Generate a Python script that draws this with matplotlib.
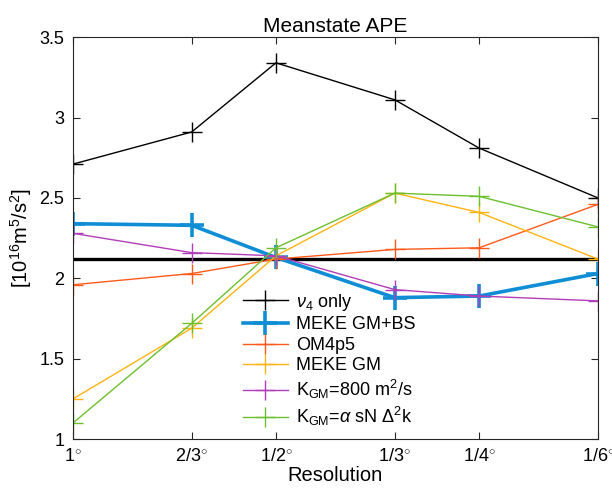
import matplotlib
matplotlib.use("Agg")
import matplotlib.pyplot as plt
import numpy as np

# Data
res_labels = ["1", "2/3", "1/2", "1/3", "1/4", "1/6"]
res_deg = [1.0, 2 / 3, 1 / 2, 1 / 3, 1 / 4, 1 / 6]

nu4_only = [2.71, 2.91, 3.34, 3.11, 2.81, 2.50]
meke_gm_bs = [2.34, 2.33, 2.13, 1.88, 1.89, 2.03]
om4p5 = [1.96, 2.03, 2.12, 2.18, 2.19, 2.46]
meke_gm = [1.25, 1.69, 2.14, 2.53, 2.41, 2.12]
kgm_800 = [2.28, 2.16, 2.14, 1.93, 1.89, 1.86]
kgm_alpha = [1.10, 1.72, 2.19, 2.53, 2.51, 2.32]
ref_level = 2.12

plt.rcParams.update({
    "font.family": "Liberation Sans",
    "mathtext.fontset": "custom",
    "mathtext.rm": "Liberation Sans",
    "mathtext.it": "Liberation Sans:italic",
    "mathtext.bf": "Liberation Sans:bold",
    "xtick.direction": "in",
    "ytick.direction": "in",
    "xtick.top": True,
    "ytick.right": True,
})

BLACK = "#000000"
BLUE = "#0F8ED6"
ORANGE = "#FF5A1A"
YELLOW = "#FFB310"
PURPLE = "#B23DB8"
GREEN = "#6CBF2E"
AXIS = "#262626"

fig = plt.figure(figsize=(6.12, 4.88), dpi=100)
ax = fig.add_axes([0.119, 0.100, 0.858, 0.824])

x = 1 / np.array(res_deg)

ax.plot(x, nu4_only, color=BLACK, lw=1.0, marker="+", ms=15, mew=1.0,
        label=r"$\nu_4$ only")
ax.plot(x, meke_gm_bs, color=BLUE, lw=2.6, marker="+", ms=17, mew=2.6,
        label="MEKE GM+BS")
ax.plot(x, om4p5, color=ORANGE, lw=1.0, marker="+", ms=15, mew=1.0,
        label="OM4p5")
ax.plot(x, meke_gm, color=YELLOW, lw=1.0, marker="+", ms=15, mew=1.0,
        label="MEKE GM")
ax.plot(x, kgm_800, color=PURPLE, lw=1.0, marker="+", ms=15, mew=1.0,
        label=r"K$_{\rm GM}$=800 m$^2$/s")
ax.plot(x, kgm_alpha, color=GREEN, lw=1.0, marker="+", ms=15, mew=1.0,
        label=r"K$_{\rm GM}$=$\alpha$ sN $\Delta^2$k")
ax.axhline(ref_level, color=BLACK, lw=2.4, zorder=1)

ax.set_xscale("log")
ax.set_xlim(x[0], x[-1])
ax.set_xticks(x)
ax.set_xticklabels([lab + r"$^{\circ}$" for lab in res_labels])
ax.minorticks_off()
ax.set_ylim(1, 3.5)
ax.set_yticks([1, 1.5, 2, 2.5, 3, 3.5])
ax.set_yticklabels(["1", "1.5", "2", "2.5", "3", "3.5"])
ax.tick_params(labelsize=13, colors=AXIS, labelcolor=BLACK, length=5, width=0.8, pad=6)
for s in ax.spines.values():
    s.set_color(AXIS)
    s.set_linewidth(0.8)

ax.set_xlabel("Resolution", fontsize=14.5, labelpad=1)
ax.set_ylabel(r"[10$^{16}$m$^5$/s$^2$]", fontsize=14.5, labelpad=4)
ax.set_title("Meanstate APE", fontsize=15, pad=4)

leg = ax.legend(loc="upper left", bbox_to_anchor=(0.31, 0.385), frameon=False,
                fontsize=13, handlelength=2.5, handletextpad=0.45,
                labelspacing=0.2, borderaxespad=0)

fig.savefig("out.png", dpi=100)
